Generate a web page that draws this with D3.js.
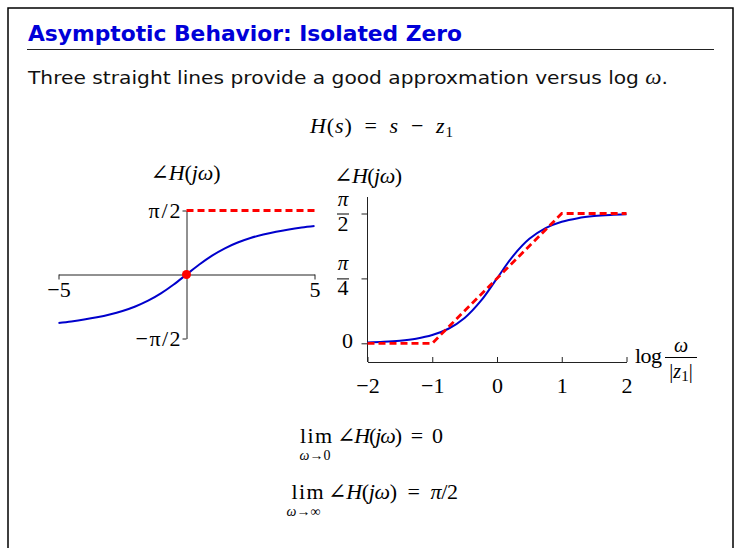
<!DOCTYPE html>
<html>
<head>
<meta charset="utf-8">
<script src="https://cdn.jsdelivr.net/npm/d3@7"></script>
<style>
  html, body { margin: 0; padding: 0; background: #fff; }
  svg { display: block; }
</style>
</head>
<body>
<script>
// ---- data ----
const HALF_PI = 1.5708;
const QUARTER_PI = 0.7854;

// linear-frequency phase of H(jw) (left panel)
const linOmega = [-5, -4.5, -4, -3.5, -3, -2.5, -2, -1.5, -1, -0.5, 0, 0.5, 1, 1.5, 2, 2.5, 3, 3.5, 4, 4.5, 5];
const linPhase = [-1.1903, -1.1525, -1.1071, -1.0517, -0.9828, -0.8961, -0.7854, -0.6435, -0.4636, -0.2450, 0,
                  0.2450, 0.4636, 0.6435, 0.7854, 0.8961, 0.9828, 1.0517, 1.1071, 1.1525, 1.1903];
const linAsymOmega = [0, 5];
const linAsymPhase = [HALF_PI, HALF_PI];
const linXTicks = [-5, 5];
const linXTickLabels = ["\u22125", "5"];
const linYTicks = [-HALF_PI, HALF_PI];
const linYTickLabels = ["\u2212\u03c0/2", "\u03c0/2"];

// log-frequency phase of H(jw) (right panel)
const logOmega = [-2, -1.75, -1.5, -1.25, -1, -0.75, -0.5, -0.25, 0, 0.25, 0.5, 0.75, 1, 1.25, 1.5, 1.75, 2];
const logPhase = [0.0100, 0.0178, 0.0316, 0.0562, 0.0997, 0.1760, 0.3063, 0.5124, 0.7854,
                  1.0584, 1.2645, 1.3948, 1.4711, 1.5146, 1.5392, 1.5530, 1.5608];
const logAsymOmega = [-2, -1, 1, 2];
const logAsymPhase = [0, 0, HALF_PI, HALF_PI];
const logXTicks = [-2, -1, 0, 1, 2];
const logXTickLabels = ["\u22122", "\u22121", "0", "1", "2"];
const logYTicks = [0, QUARTER_PI, HALF_PI];
const logYTickNums = ["0", "\u03c0", "\u03c0"];
const logYTickDens = [null, "4", "2"];

// ---- styles ----
const W = 741, H = 548;
const SERIF = "'Liberation Serif', 'DejaVu Serif', serif";
const SANS = "'DejaVu Sans', 'Liberation Sans', sans-serif";
const BLUE = "#0000cc";
const RED = "#ff0000";
const TITLE_BLUE = "#0000d8";
const MS = 22; // math font size
const SP = "\u2002"; // en space around relations and operators

const svg = d3.select("body").append("svg")
  .attr("width", W).attr("height", H);

// slide frame
svg.append("path")
  .attr("d", "M8,548V8H733V548")
  .attr("fill", "none").attr("stroke", "#000").attr("stroke-width", 1.5);

// title and rule
svg.append("text")
  .attr("x", 28).attr("y", 41)
  .attr("font-family", SANS).attr("font-weight", "bold").attr("font-size", 20.5)
  .attr("fill", TITLE_BLUE)
  .attr("textLength", 434).attr("lengthAdjust", "spacingAndGlyphs")
  .text("Asymptotic Behavior: Isolated Zero");
svg.append("line")
  .attr("x1", 27).attr("x2", 714).attr("y1", 49.5).attr("y2", 49.5)
  .attr("stroke", "#222").attr("stroke-width", 1);

const sub = svg.append("text")
  .attr("x", 28).attr("y", 84)
  .attr("font-family", SANS).attr("font-size", 18.5).attr("fill", "#111")
  .attr("textLength", 640).attr("lengthAdjust", "spacingAndGlyphs");
sub.append("tspan").text("Three straight lines provide a good approxmation versus log ");
sub.append("tspan").attr("font-family", SERIF).attr("font-style", "italic").attr("font-size", 21).text("\u03c9");
sub.append("tspan").text(".");

// helper: write a math run made of [text, italic, dy, size] pieces
function mathText(parent, x, y, parts, size, anchor, len) {
  const t = parent.append("text")
    .attr("x", x).attr("y", y)
    .attr("font-family", SERIF).attr("font-size", size)
    .attr("text-anchor", anchor || "start").attr("fill", "#000");
  if (len) t.attr("textLength", len).attr("lengthAdjust", "spacing");
  parts.forEach(p => {
    const s = t.append("tspan").text(p[0]);
    if (p[1]) s.attr("font-style", "italic");
    if (p[2]) s.attr("dy", p[2]);
    if (p[3]) s.attr("font-size", p[3]);
  });
  return t;
}
const angleH = [["\u2220", false], ["H", true], ["(", false], ["j", true], ["\u03c9", true], [")", false]];

// H(s) = s - z1
mathText(svg, 310, 133, [["H", true], ["(", false], ["s", true], [")" + SP + "=" + SP, false], ["s", true],
  [SP + "\u2212" + SP, false], ["z", true], ["1", false, 4, 15]], MS, "start", 143);

// ---------------- left panel ----------------
const xL = d3.scaleLinear().domain([-5, 5]).range([58.5, 314.5]);
const yL = d3.scaleLinear().domain([-HALF_PI, HALF_PI]).range([338.5, 210.5]);
const gL = svg.append("g");

mathText(gL, 185.5, 180, angleH, MS, "middle", 70);

const axL = gL.append("g")
  .attr("transform", `translate(0,${yL(0)})`)
  .call(d3.axisBottom(xL).tickValues(linXTicks).tickSize(5).tickSizeOuter(0).tickPadding(2)
    .tickFormat((d, i) => linXTickLabels[i]));
const ayL = gL.append("g")
  .attr("transform", `translate(${xL(0)},0)`)
  .call(d3.axisLeft(yL).tickValues(linYTicks).tickSize(4).tickSizeOuter(0).tickPadding(2)
    .tickFormat((d, i) => linYTickLabels[i]));
[axL, ayL].forEach(a => {
  a.selectAll("path,line").attr("stroke", "#222").attr("stroke-width", 1);
  a.selectAll("text").attr("font-family", SERIF).attr("font-size", MS).attr("fill", "#000");
});
ayL.selectAll("text").attr("dy", "0.3em")
  .attr("textLength", (d, i) => i === 0 ? 45 : 32).attr("lengthAdjust", "spacing");

gL.append("path")
  .datum(linOmega.map((w, i) => [w, linPhase[i]]))
  .attr("d", d3.line().x(d => xL(d[0])).y(d => yL(d[1])).curve(d3.curveMonotoneX))
  .attr("fill", "none").attr("stroke", BLUE).attr("stroke-width", 2);
gL.append("path")
  .datum(linAsymOmega.map((w, i) => [w, linAsymPhase[i]]))
  .attr("d", d3.line().x(d => xL(d[0])).y(d => yL(d[1])))
  .attr("fill", "none").attr("stroke", RED).attr("stroke-width", 2.8)
  .attr("stroke-dasharray", "7,4");
gL.append("circle")
  .attr("cx", xL(0)).attr("cy", yL(0)).attr("r", 4.5).attr("fill", RED);

// ---------------- right panel ----------------
const xR = d3.scaleLinear().domain([-2, 2]).range([367.5, 626.5]);
const yR = d3.scaleLinear().domain([0, HALF_PI]).range([343.3, 213.5]);
const axisY = 362;
const gR = svg.append("g");

mathText(gR, 334, 182.5, angleH, MS, "start", 68);

const axR = gR.append("g")
  .attr("transform", `translate(0,${axisY})`)
  .call(d3.axisBottom(xR).tickValues(logXTicks).tickSize(-5).tickSizeOuter(0).tickPadding(15)
    .tickFormat((d, i) => logXTickLabels[i]));
const ayR = gR.append("g")
  .attr("transform", `translate(${xR(-2)},0)`)
  .call(d3.axisLeft(yR).tickValues(logYTicks).tickSize(6).tickSizeOuter(0).tickFormat(() => ""));
ayR.select(".domain").remove();
gR.append("line")
  .attr("x1", xR(-2)).attr("x2", xR(-2)).attr("y1", 197).attr("y2", axisY)
  .attr("stroke", "#222").attr("stroke-width", 1);
[axR, ayR].forEach(a => {
  a.selectAll("path,line").attr("stroke", "#222").attr("stroke-width", 1);
  a.selectAll("text").attr("font-family", SERIF).attr("font-size", MS).attr("fill", "#000");
});

// stacked-fraction tick labels on the phase axis
logYTicks.forEach((v, i) => {
  const y = yR(v);
  if (!logYTickDens[i]) {
    mathText(gR, 347.5, y + 5, [[logYTickNums[i], false]], MS, "middle");
    return;
  }
  mathText(gR, 343, y - 8, [[logYTickNums[i], true]], 21, "middle");
  gR.append("line").attr("x1", 337).attr("x2", 349).attr("y1", y + 0.5).attr("y2", y + 0.5)
    .attr("stroke", "#000").attr("stroke-width", 1);
  mathText(gR, 343, y + 17, [[logYTickDens[i], false]], MS, "middle");
});

// x-axis title: log (w / |z1|)
mathText(gR, 635, 363, [["log", false]], MS, "start", 27);
mathText(gR, 681, 352, [["\u03c9", true]], 20, "middle");
gR.append("line").attr("x1", 665).attr("x2", 697).attr("y1", 357.5).attr("y2", 357.5)
  .attr("stroke", "#000").attr("stroke-width", 1);
mathText(gR, 681, 378, [["|", false], ["z", true], ["1", false, 3, 15], ["|", false, -3]], 20, "middle");

gR.append("path")
  .datum(logOmega.map((w, i) => [w, logPhase[i]]))
  .attr("d", d3.line().x(d => xR(d[0])).y(d => yR(d[1])).curve(d3.curveCatmullRom))
  .attr("fill", "none").attr("stroke", BLUE).attr("stroke-width", 2);
gR.append("path")
  .datum(logAsymOmega.map((w, i) => [w, logAsymPhase[i]]))
  .attr("d", d3.line().x(d => xR(d[0])).y(d => yR(d[1])))
  .attr("fill", "none").attr("stroke", RED).attr("stroke-width", 2.8)
  .attr("stroke-dasharray", "7,4");

// ---------------- limits ----------------
mathText(svg, 316, 443, [["lim", false]], MS, "middle", 32);
mathText(svg, 315, 460, [["\u03c9", true], ["\u2192", false], ["0", false]], 14, "middle");
mathText(svg, 337, 443, angleH.concat([[SP + "=" + SP + "0", false]]), MS, "start", 106);

mathText(svg, 307.5, 499, [["lim", false]], MS, "middle", 32);
mathText(svg, 303.5, 516, [["\u03c9", true], ["\u2192\u221e", false]], 14, "middle");
mathText(svg, 328, 499, angleH.concat([[SP + "=" + SP, false], ["\u03c0", true], ["/2", false]]), MS, "start", 130);
</script>
</body>
</html>
